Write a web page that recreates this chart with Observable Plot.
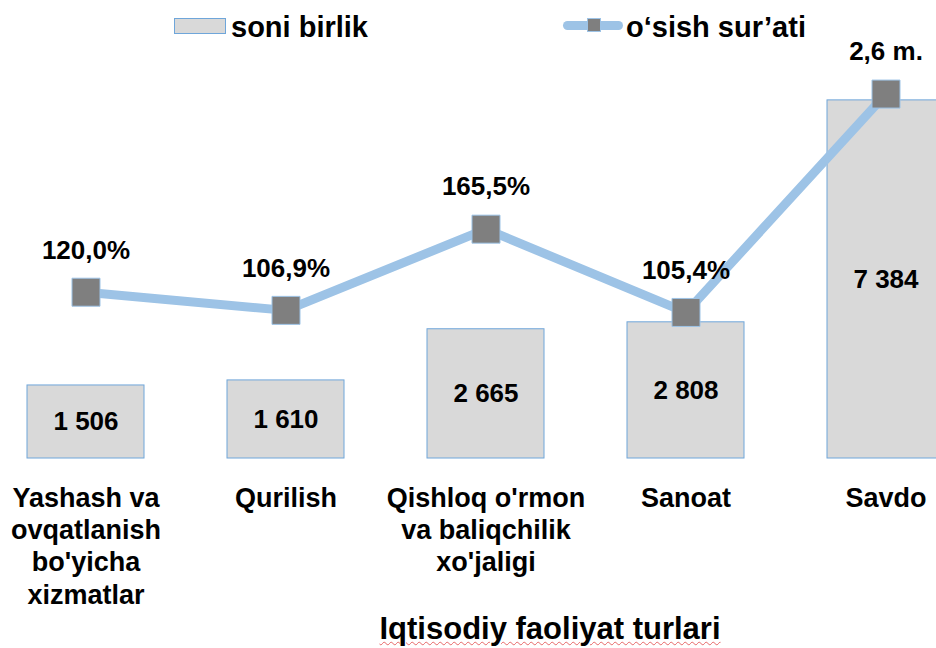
<!DOCTYPE html>
<html>
<head>
<meta charset="utf-8">
<script src="https://cdn.jsdelivr.net/npm/d3@7"></script>
<script src="https://cdn.jsdelivr.net/npm/@observablehq/plot@0.6"></script>
<style>
  html, body { margin: 0; padding: 0; background: #fff; width: 936px; height: 648px; overflow: hidden; }
  body { font-family: "Liberation Sans", Arial, sans-serif; font-weight: bold; color: #000; }
  #legend { position: relative; height: 36px; width: 936px; }
  #legend .sw { position: absolute; left: 174px; top: 18px; width: 50px; height: 14px; background: #d9d9d9; border: 1px solid #6fa6da; }
  #legend .ln { position: absolute; left: 563px; top: 21px; width: 60px; height: 9px; border-radius: 5px; background: #9dc3e6; }
  #legend .mk { position: absolute; left: 587px; top: 18px; width: 14px; height: 14px; background: #7f7f7f; box-sizing: border-box; border: 1px solid #9dc3e6; }
  #legend .t { position: absolute; top: 11px; font-size: 29px; line-height: 32px; white-space: nowrap; }
  #caption { width: 936px; box-sizing: border-box; padding-left: 164px; padding-top: 2px; text-align: center; font-size: 31px; line-height: 34px; }
  #caption span { text-decoration: underline wavy rgba(225, 70, 70, 0.8); text-decoration-thickness: 1px; text-underline-offset: 2px; }
  #chart svg { overflow: visible; }
</style>
</head>
<body>
<div id="legend">
  <div class="sw"></div><div class="t" style="left:231px">soni birlik</div>
  <div class="ln"></div><div class="mk"></div><div class="t" style="left:626px">o‘sish sur’ati</div>
</div>
<div id="chart"></div>
<div id="caption"><span>Iqtisodiy faoliyat turlari</span></div>
<script>
// Categories (x tick labels, multi-line)
const categories = [
  "Yashash va\novqatlanish\nbo'yicha\nxizmatlar",
  "Qurilish",
  "Qishloq o'rmon\nva baliqchilik\nxo'jaligi",
  "Sanoat",
  "Savdo"
];
// soni birlik (bars, primary axis)
const counts = [1506, 1610, 2665, 2808, 7384];
// o‘sish sur’ati, % (line, secondary axis)
const growth = [120.0, 106.9, 165.5, 105.4, 263];
const growthLabels = ["120,0%", "106,9%", "165,5%", "105,4%", "2,6 m."];
// axis extents (primary and secondary share the same pixel range)
const countMax = 8000;
const growthMax = 280;

const data = categories.map((c, i) => ({cat: c, count: counts[i], growth: growth[i], gLabel: growthLabels[i]}));
const g2y = d => d.growth * countMax / growthMax;

const loc = d3.formatLocale({decimal: ",", thousands: " ", grouping: [3], currency: ["", ""]});
const fmt = loc.format(",");

const font = "Liberation Sans, Arial, sans-serif";

const chart = Plot.plot({
  width: 936,
  height: 574,
  marginTop: 34,
  marginBottom: 152,
  marginLeft: 0,
  marginRight: 0,
  style: {fontFamily: font, background: "#fff", color: "#000", overflow: "visible"},
  x: {domain: categories, range: [26.5, 943.5], paddingInner: 0.415, paddingOuter: 0, axis: null},
  y: {domain: [0, countMax], axis: null},
  marks: [
    Plot.barY(data, {x: "cat", y: "count", fill: "#d9d9d9", stroke: "#6fa6da", strokeWidth: 1}),
    Plot.text(data, {x: "cat", y: d => d.count / 2, text: d => fmt(d.count), fontSize: 26, fontWeight: "bold", fill: "#000"}),
    Plot.line(data, {x: "cat", y: g2y, stroke: "#9dc3e6", strokeWidth: 9, strokeLinejoin: "round"}),
    Plot.dot(data, {x: "cat", y: g2y, symbol: "square", r: 15.8, fill: "#7f7f7f", stroke: "#9dc3e6", strokeWidth: 1}),
    Plot.text(data, {x: "cat", y: g2y, text: "gLabel", dy: -42, fontSize: 26, fontWeight: "bold", fill: "#000"}),
    Plot.axisX({tickSize: 0, tickPadding: 25, fontSize: 27, fontWeight: "bold", lineHeight: 1.2, lineAnchor: "top", label: null, fill: "#000"})
  ]
});
document.getElementById("chart").appendChild(chart);
</script>
</body>
</html>
